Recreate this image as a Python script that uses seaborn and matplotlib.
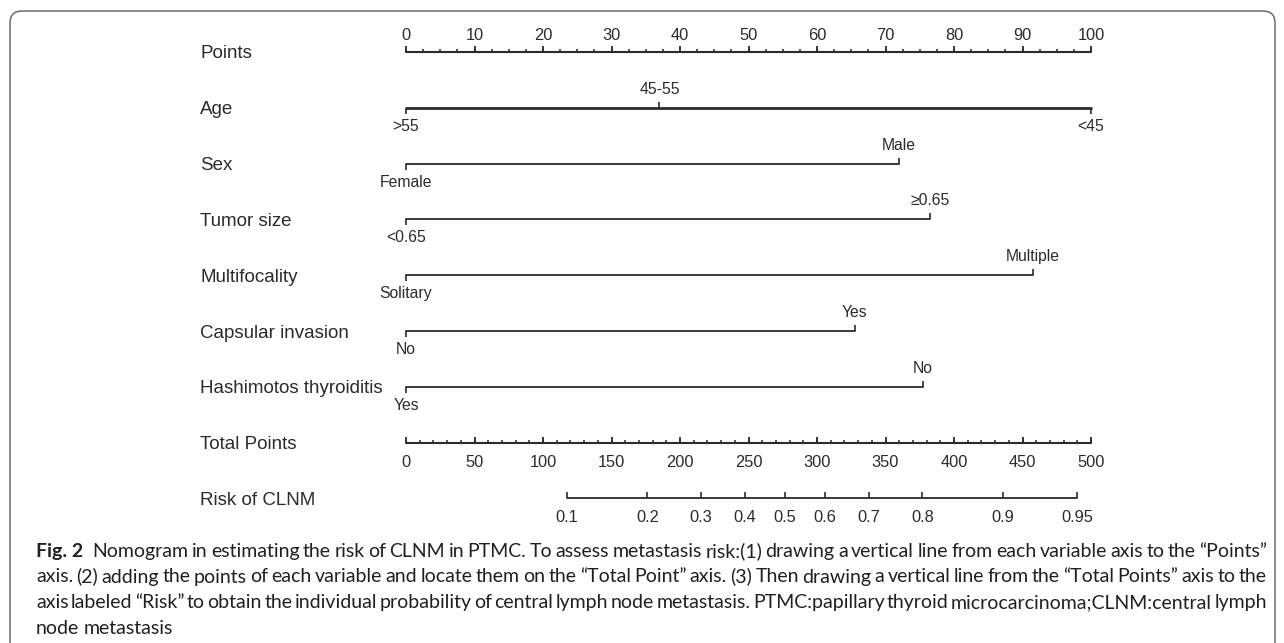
import numpy as np
import pandas as pd
import matplotlib
matplotlib.use("Agg")
import matplotlib.pyplot as plt
import seaborn as sns
from matplotlib.patches import FancyBboxPatch

# nomogram values
row_names = ["Points", "Age", "Sex", "Tumor size", "Multifocality", "Capsular invasion",
             "Hashimotos thyroiditis", "Total Points", "Risk of CLNM"]
points_ticks = [0, 10, 20, 30, 40, 50, 60, 70, 80, 90, 100]
total_ticks = [0, 50, 100, 150, 200, 250, 300, 350, 400, 450, 500]

age_levels = [">55", "45-55", "<45"]
age_points = [0, 37, 100]
sex_levels = ["Female", "Male"]
sex_points = [0, 72]
tumor_levels = ["<0.65", "≥0.65"]
tumor_points = [0, 76.5]
multi_levels = ["Solitary", "Multiple"]
multi_points = [0, 91.5]
capsular_levels = ["No", "Yes"]
capsular_points = [0, 65.5]
hashimoto_levels = ["Yes", "No"]
hashimoto_points = [0, 75.5]

risk_ticks = [0.1, 0.2, 0.3, 0.4, 0.5, 0.6, 0.7, 0.8, 0.9, 0.95]
risk_labels = ["0.1", "0.2", "0.3", "0.4", "0.5", "0.6", "0.7", "0.8", "0.9", "0.95"]
risk_b0 = 276.6   # total points at logit = 0
risk_b1 = 72.4    # total points per unit logit

caption = [
    ["Fig. 2", "Nomogram in estimating the risk of CLNM in PTMC. To assess metastasis risk:(1) drawing a vertical line from each variable axis to the \u201cPoints\u201d"],
    ["axis. (2) adding the points of each variable and locate them on the \u201cTotal Point\u201d axis. (3) Then drawing a vertical line from the \u201cTotal Points\u201d axis to the"],
    ["axis labeled \u201cRisk\u201d to obtain the individual probability of central lymph node metastasis. PTMC:papillary thyroid microcarcinoma;CLNM:central lymph"],
    ["node metastasis"],
]

sns.set_theme(style="white")
plt.rcParams['font.family'] = ['Liberation Sans', 'DejaVu Sans']

W, H = 1284, 643
fig = plt.figure(figsize=(W / 100, H / 100), dpi=100)

# background axes in pixel units: frame + caption + row labels
bg = fig.add_axes([0, 0, 1, 1], zorder=0)
bg.set_xlim(0, W)
bg.set_ylim(H, 0)
bg.axis("off")
box = FancyBboxPatch((10, 11), 1265, 700, boxstyle="round,pad=0,rounding_size=12",
                     fc="none", ec="#6b6b6b", lw=1.1)
bg.add_patch(box)

# nomogram axes: x in points (0..100), y in pixels
x0, ppt = 406, 6.85
ax = fig.add_axes([0, 0, 1, 1], zorder=1)
ax.set_xlim(-x0 / ppt, (W - x0) / ppt)
ax.set_ylim(H, 0)
ax.axis("off")
ax.patch.set_alpha(0)

ink = "#2b2b2b"
num_font = ['Liberation Sans', 'DejaVu Sans']
row_y = 52 + 55.8 * np.arange(len(row_names))

for name, y in zip(row_names, row_y):
    bg.text(200, y + 2, name, fontsize=13.5, color=ink, va="center", ha="left", family=num_font)

# Points axis
y = row_y[0]
sns.lineplot(x=[0, 100], y=[y, y], color=ink, linewidth=1.5, ax=ax)
ax.vlines(np.arange(0, 100.1, 2.5), y, y - 3, color=ink, lw=1.1)
ax.vlines(points_ticks, y, y - 6, color=ink, lw=1.3)
for t in points_ticks:
    ax.text(t, y - 17, str(t), ha="center", va="center", fontsize=11.8, color=ink, family=num_font)

# variable axes
variables = [(age_levels, age_points), (sex_levels, sex_points), (tumor_levels, tumor_points),
             (multi_levels, multi_points), (capsular_levels, capsular_points),
             (hashimoto_levels, hashimoto_points)]
for i, (levels, pts) in enumerate(variables):
    y = row_y[i + 1]
    sns.lineplot(x=[min(pts), max(pts)], y=[y, y], color=ink,
                 linewidth=2.0 if i == 0 else 1.3, ax=ax)
    for j, (lab, p) in enumerate(zip(levels, pts)):
        up = (j % 2 == 1)
        d = -1 if up else 1
        ax.vlines(p, y, y + d * 6, color=ink, lw=1.2)
        ax.text(p, y + d * 18.5, lab, ha="center", va="center", fontsize=11.3, color=ink,
                family=num_font)

# Total points axis
y = row_y[7]
sns.lineplot(x=[0, 100], y=[y, y], color=ink, linewidth=1.5, ax=ax)
ax.vlines(np.arange(0, 500.1, 10) / 5, y, y - 3, color=ink, lw=1.1)
ax.vlines(np.array(total_ticks) / 5, y, y - 6, color=ink, lw=1.3)
for t in total_ticks:
    ax.text(t / 5, y + 20, str(t), ha="center", va="center", fontsize=11.8, color=ink, family=num_font)

# Risk axis
y = row_y[8]
rp = np.array(risk_ticks)
rx = (risk_b0 + risk_b1 * np.log(rp / (1 - rp))) / 5
sns.lineplot(x=[rx.min(), rx.max()], y=[y, y], color=ink, linewidth=1.3, ax=ax)
ax.vlines(rx, y, y - 6, color=ink, lw=1.2)
for x, lab in zip(rx, risk_labels):
    ax.text(x, y + 19, lab, ha="center", va="center", fontsize=11.8, color=ink, family=num_font)

# caption, justified word by word between left and right margins
cap_font = ["Lato", "DejaVu Sans"]
left, right = 36, 1267
renderer = fig.canvas.get_renderer()
for k, parts in enumerate(caption):
    y = 557 + 25.5 * k
    words = []
    if len(parts) == 2:
        words.append((parts[0], "bold"))
        words += [(w, "normal") for w in parts[1].split(" ")]
    else:
        words += [(w, "normal") for w in parts[0].split(" ")]
    arts = [bg.text(0, y, w, fontsize=14.0, fontweight=wt, family=cap_font, color="#231f20",
                    va="baseline", ha="left") for w, wt in words]
    widths = [a.get_window_extent(renderer).width for a in arts]
    if k < len(caption) - 1:
        gap = (right - left - 6 * (k == 0) - sum(widths)) / (len(arts) - 1)
    else:
        gap = 4.0
    x = left
    for a, wd in zip(arts, widths):
        a.set_x(x)
        x += wd + gap
        if k == 0 and a is arts[0]:
            x += 6

fig.savefig("out.png", dpi=100)
